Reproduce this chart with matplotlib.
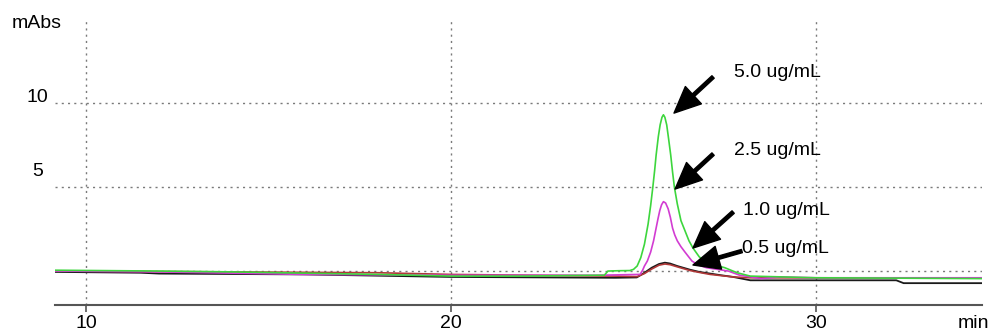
import matplotlib
matplotlib.use("Agg")
import matplotlib.pyplot as plt
from matplotlib.transforms import blended_transform_factory

plt.rcParams['font.family'] = ['Liberation Sans', 'DejaVu Sans']

# ---- data ----
green_t = [9.15, 12.0, 14.0, 18.0, 20.0, 22.0, 24.0, 24.2, 24.3, 24.6, 24.9, 25.0, 25.1, 25.2,
           25.3, 25.4, 25.47, 25.53, 25.58, 25.62, 25.68, 25.73, 25.78, 25.82, 25.86, 25.91,
           25.96, 26.02, 26.07, 26.12, 26.2, 26.3, 26.41, 26.52, 26.63, 26.8, 26.96, 27.2,
           27.5, 27.84, 28.2, 30.0, 32.0, 34.55]
green_y = [0.05, 0.0, -0.05, -0.2, -0.3, -0.3, -0.25, -0.25, 0.0, 0.02, 0.03, 0.1, 0.3, 0.8,
           1.6, 2.8, 3.9, 5.0, 6.0, 6.9, 8.0, 8.7, 9.15, 9.3, 9.15, 8.7,
           7.9, 6.9, 5.9, 5.0, 4.0, 3.0, 2.4, 1.8, 1.37, 0.85, 0.54, 0.38,
           0.2, -0.1, -0.3, -0.4, -0.42, -0.45]

magenta_t = [9.15, 12.0, 16.0, 20.0, 24.0, 25.18, 25.25, 25.3, 25.38, 25.47, 25.55, 25.62,
             25.67, 25.72, 25.77, 25.82, 25.88, 25.95, 26.01, 26.07, 26.13, 26.2, 26.3, 26.41,
             26.6, 26.77, 27.0, 27.3, 27.6, 27.9, 28.5, 29.0, 30.0, 34.55]
magenta_y = [0.0, -0.05, -0.2, -0.25, -0.25, -0.2, 0.05, 0.3, 0.6, 1.13, 1.8, 2.56,
             3.1, 3.6, 3.95, 4.13, 4.05, 3.7, 3.2, 2.56, 2.15, 1.8, 1.45, 1.13,
             0.6, 0.36, 0.2, 0.1, 0.0, -0.24, -0.45, -0.35, -0.4, -0.4]

black_t = [9.15, 11.5, 12.0, 16.0, 20.0, 24.5, 25.09, 25.3, 25.5, 25.7, 25.86, 26.0, 26.2,
           26.55, 26.8, 27.1, 27.4, 27.73, 28.2, 30.0, 32.2, 32.4, 34.55]
black_y = [-0.05, -0.1, -0.15, -0.2, -0.35, -0.4, -0.38, -0.1, 0.2, 0.42, 0.5, 0.45, 0.3,
           0.08, -0.05, -0.15, -0.25, -0.35, -0.55, -0.55, -0.55, -0.72, -0.72]

brown_t = [9.15, 14.0, 18.0, 20.0, 24.5, 25.1, 25.3, 25.5, 25.7, 25.86, 26.0, 26.2,
           26.55, 26.8, 27.1, 27.73, 28.2, 34.55]
brown_y = [0.0, -0.05, -0.1, -0.2, -0.3, -0.33, -0.15, 0.12, 0.35, 0.42, 0.38, 0.25,
           0.03, -0.08, -0.2, -0.35, -0.4, -0.42]

labels = ["5.0 ug/mL", "2.5 ug/mL", "1.0 ug/mL", "0.5 ug/mL"]
label_xy = [(27.75, 11.8), (27.75, 7.2), (28.0, 3.63), (27.97, 1.37)]
arrow_tail = [(27.18, 11.55), (27.18, 6.96), (27.73, 3.51), (27.97, 1.19)]
arrow_tip = [(26.11, 9.40), (26.14, 4.88), (26.63, 1.37), (26.63, 0.36)]

x_ticks = [10, 20, 30]
y_ticks = [0, 5, 10]
y_tick_labels = {5: "5", 10: "10"}

# ---- figure ----
fig = plt.figure(figsize=(9.92, 3.31), dpi=100)
ax = fig.add_axes([55/992, 26/331, (982-55)/992, (313-26)/331])
ax.set_xlim(9.151, 34.548)
ax.set_ylim(-2.02, 15.06)

ax.plot(black_t, black_y, color='#1a1a1a', lw=1.3, zorder=3)
ax.plot(brown_t, brown_y, color='#b03838', lw=1.2, zorder=3)
ax.plot(magenta_t, magenta_y, color='#d23cd2', lw=1.2, zorder=4)
ax.plot(green_t, green_y, color='#3dd63d', lw=1.2, zorder=5)

ax.set_xticks(x_ticks)
ax.set_yticks(y_ticks)
ax.set_yticklabels([])
ax.tick_params(axis='y', length=0)
ax.tick_params(axis='x', length=5, width=1.2, color='#555555', labelsize=14, pad=2)
ax.grid(True, color='#7a7a7a', linestyle=(0, (1.5, 3)), lw=1.0)
ax.set_axisbelow(True)
for s in ['top', 'right', 'left']:
    ax.spines[s].set_visible(False)
ax.spines['bottom'].set_color('#555555')
ax.spines['bottom'].set_linewidth(1.5)

trans = blended_transform_factory(ax.transAxes, ax.transData)
ax.text(-0.0076, 10.3, y_tick_labels[10], transform=trans, ha='right', va='center', fontsize=14)
ax.text(-0.013, 5.9, y_tick_labels[5], transform=trans, ha='right', va='center', fontsize=14)

fig.text(37/992, 1 - 23/331, "mAbs", ha='center', va='center', fontsize=14)
fig.text(973/992, 1 - 323/331, "min", ha='center', va='center', fontsize=14)

for lab, xy, tail, tip in zip(labels, label_xy, arrow_tail, arrow_tip):
    ax.text(xy[0], xy[1], lab, ha='left', va='center', fontsize=14, zorder=6)
    ax.annotate("", xy=tip, xytext=tail,
                arrowprops=dict(facecolor='black', edgecolor='black', width=2.4,
                                headwidth=17, headlength=19, shrink=0), zorder=6)

fig.savefig("out.png", dpi=100)
